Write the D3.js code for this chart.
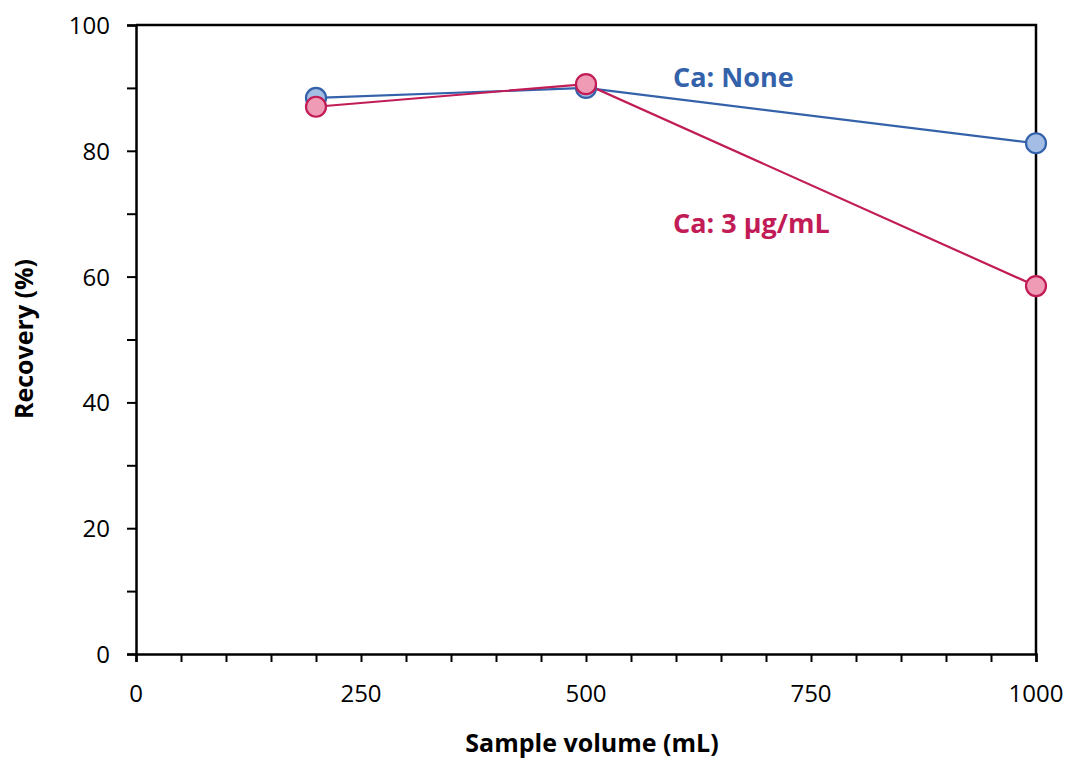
<!DOCTYPE html>
<html>
<head>
<meta charset="utf-8">
<script src="https://cdn.jsdelivr.net/npm/d3@7"></script>
<style>
  body { margin: 0; background: #fff; }
  text { font-family: "Open Sans", "Noto Sans", sans-serif; }
</style>
</head>
<body>
<svg id="chart" width="1067" height="758"></svg>
<script>
// sample volumes (mL)
const volumes = [200, 500, 1000];
// recovery (%) per series
const caNone = [88.4, 90.0, 81.2];
const ca3 = [87.0, 90.6, 58.5];
const seriesNames = ["Ca: None", "Ca: 3 µg/mL"];
const xTickLabels = [0, 250, 500, 750, 1000];
const yTickLabels = [0, 20, 40, 60, 80, 100];

const svg = d3.select("#chart");
const plotL = 136, plotR = 1036, plotT = 25, plotB = 654;

const x = d3.scaleLinear().domain([0, 1000]).range([plotL, plotR]);
const y = d3.scaleLinear().domain([0, 100]).range([plotB, plotT]);

// frame (top and right)
svg.append("path")
    .attr("d", `M${plotL},${plotT}H${plotR}V${plotB}`)
    .attr("fill", "none")
    .attr("stroke", "#000")
    .attr("stroke-width", 2.5);

// x axis: ticks every 50, labels every 250
const xAxis = svg.append("g")
    .attr("transform", `translate(0,${plotB})`)
    .call(d3.axisBottom(x).tickValues(d3.range(0, 1001, 50)).tickSize(8).tickFormat(""));
xAxis.select(".domain").attr("stroke-width", 2.5);
xAxis.selectAll(".tick line").attr("stroke-width", 2);
svg.append("g").selectAll("text")
    .data(xTickLabels)
    .join("text")
    .attr("x", d => x(d))
    .attr("y", plotB + 48)
    .attr("text-anchor", "middle")
    .attr("font-size", 24)
    .attr("fill", "#000")
    .text(d => d);

// y axis: ticks every 10, labels every 20
const yAxis = svg.append("g")
    .attr("transform", `translate(${plotL},0)`)
    .call(d3.axisLeft(y).tickValues(d3.range(0, 101, 10)).tickSize(9).tickFormat(""));
yAxis.select(".domain").attr("stroke-width", 2.5);
yAxis.selectAll(".tick line").attr("stroke-width", 2);
svg.append("g").selectAll("text")
    .data(yTickLabels)
    .join("text")
    .attr("x", plotL - 26)
    .attr("y", d => y(d) + 9)
    .attr("text-anchor", "end")
    .attr("font-size", 24)
    .attr("fill", "#000")
    .text(d => d);

// axis titles
svg.append("text")
    .attr("x", 592)
    .attr("y", 752)
    .attr("text-anchor", "middle")
    .attr("font-size", 25)
    .attr("font-weight", "bold")
    .text("Sample volume (mL)");

svg.append("text")
    .attr("transform", `translate(33,339) rotate(-90)`)
    .attr("text-anchor", "middle")
    .attr("font-size", 25)
    .attr("font-weight", "bold")
    .text("Recovery (%)");

const series = [
    { name: seriesNames[0], values: caNone, stroke: "#3462AA", fill: "#A4BDE4", lx: 673, ly: 87 },
    { name: seriesNames[1], values: ca3, stroke: "#C21C57", fill: "#EF9BB5", lx: 673, ly: 233 }
];

const line = d3.line().x((d, i) => x(volumes[i])).y(d => y(d));

series.forEach(s => {
    svg.append("path")
        .datum(s.values)
        .attr("d", line)
        .attr("fill", "none")
        .attr("stroke", s.stroke)
        .attr("stroke-width", 2.2);
});

series.forEach(s => {
    svg.append("g").selectAll("circle")
        .data(s.values)
        .join("circle")
        .attr("cx", (d, i) => x(volumes[i]))
        .attr("cy", d => y(d))
        .attr("r", 10)
        .attr("fill", s.fill)
        .attr("stroke", s.stroke)
        .attr("stroke-width", 2.2);

    svg.append("text")
        .attr("x", s.lx)
        .attr("y", s.ly)
        .attr("font-size", 27)
        .attr("font-weight", "bold")
        .attr("fill", s.stroke)
        .text(s.name);
});
</script>
</body>
</html>
